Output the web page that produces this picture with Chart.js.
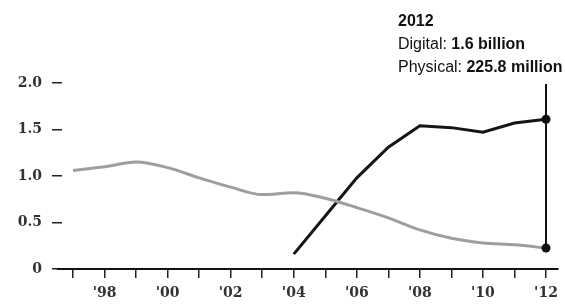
<!DOCTYPE html>
<html>
<head>
<meta charset="utf-8">
<script src="https://cdn.jsdelivr.net/npm/chart.js@4"></script>
<style>
  html, body { margin: 0; padding: 0; background: #fff; }
  #wrap { width: 565px; height: 304px; }
</style>
</head>
<body>
<div id="wrap"><canvas id="musicChart"></canvas></div>
<script>
// sales, billions of units
const years = [1997, 1998, 1999, 2000, 2001, 2002, 2003, 2004, 2005, 2006, 2007, 2008, 2009, 2010, 2011, 2012];
const physical = [1.06, 1.10, 1.15, 1.09, 0.98, 0.88, 0.80, 0.82, 0.76, 0.66, 0.55, 0.42, 0.33, 0.28, 0.26, 0.226];
const digital = [null, null, null, null, null, null, null, 0.16, 0.57, 0.98, 1.31, 1.54, 1.52, 1.47, 1.57, 1.61];
const yTicks = [0, 0.5, 1.0, 1.5, 2.0];
const yTickLabels = ['0', '0.5', '1.0', '1.5', '2.0'];

const lastIdx = years.length - 1;
const dotSizes = years.map((y, i) => i === lastIdx ? 4.5 : 0);

const callout = {
  id: 'callout',
  afterDatasetsDraw(chart) {
    const ctx = chart.ctx;
    const xs = chart.scales.x, ys = chart.scales.y;
    const x = xs.getPixelForValue(years[lastIdx]);
    const yBottom = ys.getPixelForValue(physical[lastIdx]);
    const yTop = ys.getPixelForValue(1.99);
    ctx.save();
    // axis line runs a bit left of the plot
    ctx.strokeStyle = '#111';
    ctx.lineWidth = 2;
    ctx.beginPath();
    ctx.moveTo(xs.left - 5, xs.top);
    ctx.lineTo(xs.left, xs.top);
    ctx.stroke();

    ctx.beginPath();
    ctx.moveTo(x, yTop);
    ctx.lineTo(x, yBottom);
    ctx.stroke();

    ctx.fillStyle = '#111';
    ctx.textBaseline = 'alphabetic';
    const tx = 398;
    ctx.font = 'bold 16px "Liberation Sans", Arial, sans-serif';
    ctx.fillText('2012', tx, 26);
    const lines = [['Digital: ', '1.6 billion', 49], ['Physical: ', '225.8 million', 72]];
    lines.forEach(l => {
      ctx.font = '16px "Liberation Sans", Arial, sans-serif';
      ctx.fillText(l[0], tx, l[2]);
      const w = ctx.measureText(l[0]).width;
      ctx.font = 'bold 16px "Liberation Sans", Arial, sans-serif';
      ctx.fillText(l[1], tx + w, l[2]);
    });
    ctx.restore();
  }
};

const ctx = document.getElementById('musicChart');
new Chart(ctx, {
  type: 'line',
  data: {
    labels: years,
    datasets: [{
      label: 'Physical',
      data: physical,
      borderColor: '#9e9e9e',
      borderWidth: 3,
      tension: 0.4,
      cubicInterpolationMode: 'monotone',
      pointRadius: dotSizes,
      pointBackgroundColor: '#111',
      pointBorderWidth: 0
    }, {
      label: 'Digital',
      data: digital,
      borderColor: '#151515',
      borderWidth: 3,
      tension: 0,
      pointRadius: dotSizes,
      pointBackgroundColor: '#111',
      pointBorderWidth: 0
    }]
  },
  options: {
    responsive: true,
    maintainAspectRatio: false,
    animation: false,
    layout: { padding: { top: 83, right: 3, left: 0, bottom: 0 } },
    plugins: {
      legend: { display: false },
      tooltip: { enabled: false }
    },
    scales: {
      x: {
        type: 'linear',
        min: 1996.65,
        max: 2012.38,
        afterBuildTicks: s => { s.ticks = years.map(v => ({ value: v })); },
        afterFit: s => { s.height = 35; },
        border: { display: true, color: '#111', width: 2 },
        grid: { drawOnChartArea: false, drawTicks: true, tickLength: 9, color: '#222', lineWidth: 1.5 },
        ticks: {
          autoSkip: false,
          maxRotation: 0,
          padding: 7,
          color: '#333',
          font: { family: '"DejaVu Serif", serif', size: 14, weight: 'bold' },
          callback: v => (v % 2 === 0) ? "'" + String(v).slice(2) : ''
        }
      },
      y: {
        min: 0,
        max: 2.0,
        afterBuildTicks: s => { s.ticks = yTicks.map(v => ({ value: v })); },
        afterFit: s => { s.width = 62; },
        border: { display: false },
        grid: { drawOnChartArea: false, drawTicks: true, tickLength: 10, color: '#222', lineWidth: 1.5 },
        ticks: {
          padding: 10,
          color: '#333',
          font: { family: '"DejaVu Serif", serif', size: 14, weight: 'bold' },
          callback: (v, i) => yTickLabels[yTicks.indexOf(v)]
        }
      }
    }
  },
  plugins: [callout]
});
</script>
</body>
</html>
